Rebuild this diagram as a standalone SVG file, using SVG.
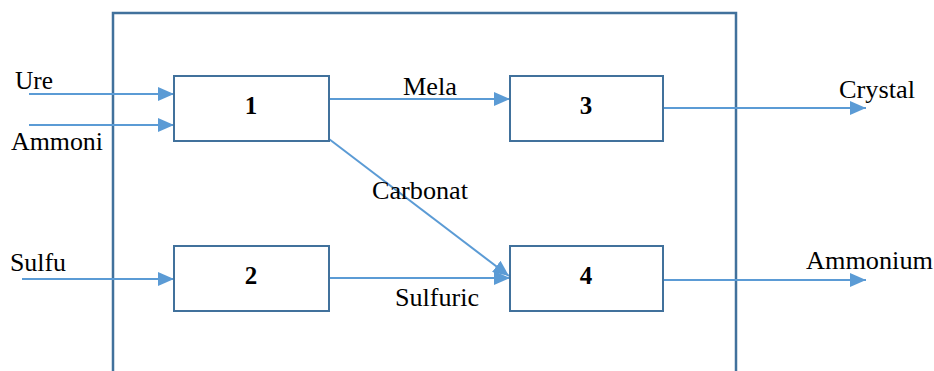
<svg xmlns="http://www.w3.org/2000/svg" width="934" height="371" viewBox="0 0 934 371">
<style>
.box{fill:#fff;stroke:#41719C;stroke-width:2}
.frame{fill:none;stroke:#41719C;stroke-width:2.5}
.c{stroke:#5B9BD5;stroke-width:2;fill:none;marker-end:url(#ah)}
.t{font-family:'Liberation Serif','Times New Roman','DejaVu Serif',serif;font-size:25px;fill:#000}
.n{font-family:'Liberation Serif','Times New Roman','DejaVu Serif',serif;font-size:25px;font-weight:bold;fill:#000;text-anchor:middle}
</style>
<defs>
<marker id="ah" markerUnits="userSpaceOnUse" markerWidth="16" markerHeight="14" viewBox="0 0 16 14" refX="16" refY="7" orient="auto">
<path d="M0,0 L16,7 L0,14 Z" fill="#5B9BD5"/>
</marker>
</defs>
<path class="frame" d="M113,372 V13 H736 V372"/>
<g id="connectors">
<line class="c" x1="29" y1="94" x2="174" y2="94"/>
<line class="c" x1="29" y1="125" x2="174" y2="125"/>
<line class="c" x1="22" y1="279" x2="174" y2="279"/>
<line class="c" x1="329" y1="99" x2="510" y2="99"/>
<line class="c" x1="329" y1="139" x2="509" y2="276"/>
<line class="c" x1="329" y1="278" x2="510" y2="278"/>
<line class="c" x1="663" y1="108" x2="866" y2="108"/>
<line class="c" x1="663" y1="280" x2="866" y2="280"/>
</g>
<g id="node1"><rect class="box" x="174" y="76" width="155" height="65"/><text class="n" x="251" y="114">1</text></g>
<g id="node2"><rect class="box" x="174" y="246" width="155" height="65"/><text class="n" x="251" y="284">2</text></g>
<g id="node3"><rect class="box" x="510" y="76" width="153" height="65"/><text class="n" x="586" y="114">3</text></g>
<g id="node4"><rect class="box" x="510" y="246" width="153" height="65"/><text class="n" x="586" y="284">4</text></g>
<g id="labels">
<text class="t" x="15" y="89" textLength="38" lengthAdjust="spacingAndGlyphs">Ure</text>
<text class="t" x="11" y="150" textLength="92" lengthAdjust="spacingAndGlyphs">Ammoni</text>
<text class="t" x="10" y="271" textLength="56" lengthAdjust="spacingAndGlyphs">Sulfu</text>
<text class="t" x="403" y="95" textLength="54" lengthAdjust="spacingAndGlyphs">Mela</text>
<text class="t" x="372" y="199" textLength="96" lengthAdjust="spacingAndGlyphs">Carbonat</text>
<text class="t" x="395" y="306" textLength="84" lengthAdjust="spacingAndGlyphs">Sulfuric</text>
<text class="t" x="839" y="98" textLength="76" lengthAdjust="spacingAndGlyphs">Crystal</text>
<text class="t" x="806" y="269" textLength="127" lengthAdjust="spacingAndGlyphs">Ammonium</text>
</g>
</svg>
